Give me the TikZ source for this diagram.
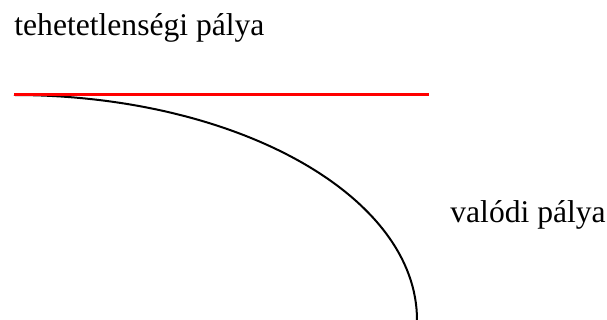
\documentclass[tikz,border=0pt]{standalone}
\usepackage{fontspec}
\setmainfont{Liberation Serif}

\begin{document}
\begin{tikzpicture}[
  x=0.5pt, y=-0.5pt,  label/.style={anchor=base west,inner sep=0pt,font=\fontsize{15.8}{18}\selectfont},  inertial/.style={red,line width=1.5pt},  real/.style={black,line width=1pt}
]
  \useasboundingbox (0,0) rectangle (607,320);
  \coordinate (start) at (14,95);
  \coordinate (inertialend) at (429,95);
  \node[label] (inertiallabel) at (14,35.7) {tehetetlenségi pálya};
  \node[label] (reallabel) at (450,222.3) {valódi pálya};
  \draw[real] (start) arc[start angle=90, end angle=0, x radius=201.5pt, y radius=112.5pt];
  \draw[inertial] (start) -- (inertialend);
\end{tikzpicture}
\end{document}
